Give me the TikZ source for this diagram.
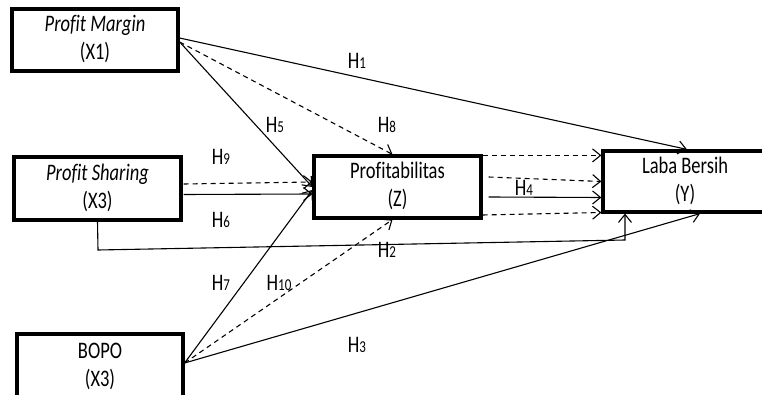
\documentclass[tikz,border=0pt]{standalone}
\usepackage{fontspec}
\setmainfont[Ligatures=NoCommon]{Carlito}
\usetikzlibrary{arrows.meta,calc}
\newcommand{\twoline}[2]{\scalebox{1}[1.28]{\begin{tabular}{@{}c@{}}#1\\#2\end{tabular}}}
\newcommand{\hlab}[1]{\scalebox{1}[1.28]{H{\fontsize{13}{13}\selectfont #1}}}
\begin{document}
\begin{tikzpicture}[x=1pt,y=-1pt,
  box/.style={draw,line width=3.2pt,rectangle,inner sep=0pt,font=\fontsize{18.5}{22}\selectfont},
  arr/.style={line width=1.1pt,-{Straight Barb[length=8pt,width=13pt,line width=1.1pt]}},
  dsh/.style={dash pattern=on 5pt off 4pt},
  lab/.style={inner sep=0pt,font=\fontsize{18.5}{22.5}\selectfont}]
\useasboundingbox (0,0) rectangle (762,395);
\clip (0,0) rectangle (762,395);
\fill[white] (0,0) rectangle (762,395);
% boxes
\node[box,minimum width=166pt,minimum height=62pt] (X1) at (95,40) {\twoline{\textit{Profit Margin}}{(X1)}};
\node[box,minimum width=167pt,minimum height=63pt] (X3) at (97.5,188.5) {\twoline{\textit{Profit Sharing}}{(X3)}};
\node[box,minimum width=166pt,minimum height=66pt] (B) at (100,367) {\twoline{BOPO}{(X3)}};
\node[box,minimum width=167pt,minimum height=62pt] (Z) at (397.5,187) {\twoline{Profitabilitas}{(Z)}};
\node[box,minimum width=164pt,minimum height=61pt] (Y) at (685,181.5) {\twoline{Laba Bersih}{(Y)}};
% corner points of H6 path
\coordinate (h6a) at (98,250);
\coordinate (h6b) at (625,240);
% connectors
\draw[arr] ([yshift=2pt]X1.east) -- ([xshift=2pt]Y.north);
\draw[arr,dsh] ([yshift=-2pt]X1.east) -- ([xshift=-5pt]Z.north);
\draw[arr] ([xshift=1pt,yshift=-3pt]X1.east) -- (Z.west);
\draw[arr,dsh] ([xshift=1pt,yshift=4.5pt]X3.east) -- ([yshift=5pt]Z.west);
\draw[arr] ([xshift=1pt,yshift=-6pt]X3.east) -- ([yshift=-7pt]Z.west);
\draw[arr] (X3.south) -- (h6a) -- (h6b) -- (h6b |- Y.south);
\draw[arr] ([yshift=4pt]B.east) -- ([yshift=-3pt]Z.west);
\draw[arr,dsh] ([yshift=4pt]B.east) -- ([xshift=-5pt]Z.south);
\draw[arr] ([yshift=4pt]B.east) -- ([xshift=15pt]Y.south);
\draw[arr,dsh] ([yshift=-1pt]Z.north east) -- ([yshift=-6pt]Y.north west);
\draw[arr,dsh] ([xshift=6pt,yshift=10pt]Z.east) -- (Y.west);
\draw[arr] ([xshift=6pt,yshift=-10pt]Z.east) -- ([yshift=-16pt]Y.west);
\draw[arr,dsh] ([yshift=-28pt]Z.east) -- ([yshift=-31pt]Y.west);
% labels
\node[lab] (l1) at (357,61) {\hlab{1}};
\node[lab] (l8) at (387,125) {\hlab{8}};
\node[lab] (l5) at (275,125) {\hlab{5}};
\node[lab] (l9) at (221,157) {\hlab{9}};
\node[lab] (l6) at (221,220) {\hlab{6}};
\node[lab] (l2) at (387,250) {\hlab{2}};
\node[lab] (l7) at (221,283) {\hlab{7}};
\node[lab] (l10) at (279,283) {\hlab{10}};
\node[lab] (l3) at (357,345) {\hlab{3}};
\node[lab] (l4) at (524,188) {\hlab{4}};
\end{tikzpicture}
\end{document}
